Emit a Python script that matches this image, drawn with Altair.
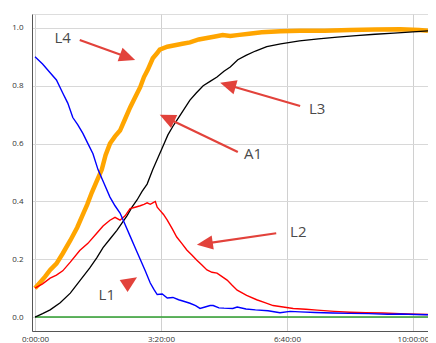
import math
import altair as alt
import pandas as pd

# ---- data (time in minutes) ----
blue_t = [0, 12, 24, 34, 44, 52, 60, 68, 76, 84, 92, 100, 110, 119, 127, 135, 143, 151, 159, 167, 175, 183, 189, 194, 202, 210, 219, 228, 236, 246, 255, 262, 270, 278, 283, 292, 300, 314, 321, 335, 350, 370, 389, 405, 421, 445, 473, 500, 530, 560, 580, 605, 624]
blue_v = [0.90, 0.875, 0.845, 0.82, 0.775, 0.74, 0.69, 0.665, 0.635, 0.60, 0.565, 0.51, 0.46, 0.415, 0.385, 0.36, 0.32, 0.28, 0.24, 0.20, 0.16, 0.118, 0.095, 0.078, 0.08, 0.066, 0.068, 0.06, 0.055, 0.048, 0.04, 0.03, 0.035, 0.04, 0.04, 0.032, 0.031, 0.03, 0.035, 0.028, 0.025, 0.022, 0.015, 0.02, 0.018, 0.016, 0.014, 0.013, 0.012, 0.01, 0.011, 0.009, 0.008]

orange_t = [0, 8, 16, 24, 34, 44, 56, 67, 75, 83, 90, 98, 106, 112, 119, 127, 135, 143, 151, 159, 167, 173, 179, 187, 194, 198, 210, 222, 234, 246, 260, 273, 286, 298, 310, 321, 340, 360, 390, 421, 460, 500, 540, 580, 610, 624]
orange_v = [0.10, 0.12, 0.14, 0.163, 0.185, 0.22, 0.265, 0.31, 0.35, 0.39, 0.43, 0.47, 0.51, 0.56, 0.60, 0.625, 0.645, 0.685, 0.725, 0.76, 0.795, 0.83, 0.855, 0.895, 0.913, 0.925, 0.935, 0.94, 0.945, 0.95, 0.96, 0.965, 0.97, 0.975, 0.972, 0.975, 0.98, 0.985, 0.988, 0.99, 0.99, 0.993, 0.994, 0.995, 0.993, 0.99]

black_t = [0, 12, 24, 40, 56, 71, 87, 98, 108, 119, 130, 138, 146, 154, 162, 170, 178, 187, 195, 203, 211, 219, 228, 237, 246, 256, 267, 278, 289, 300, 310, 322, 335, 350, 368, 390, 420, 450, 480, 510, 540, 570, 600, 624]
black_v = [0.0, 0.012, 0.025, 0.05, 0.083, 0.125, 0.17, 0.205, 0.24, 0.27, 0.30, 0.325, 0.35, 0.38, 0.405, 0.435, 0.46, 0.51, 0.55, 0.59, 0.63, 0.66, 0.69, 0.72, 0.75, 0.775, 0.80, 0.815, 0.83, 0.85, 0.865, 0.89, 0.905, 0.92, 0.935, 0.945, 0.955, 0.962, 0.968, 0.973, 0.978, 0.982, 0.986, 0.99]

red_t = [0, 12, 24, 34, 44, 56, 71, 84, 98, 108, 119, 127, 135, 143, 151, 159, 167, 173, 178, 183, 187, 191, 194, 198, 204, 210, 218, 225, 233, 241, 249, 257, 265, 273, 281, 289, 297, 305, 313, 321, 336, 352, 365, 378, 394, 410, 430, 448, 475, 500, 525, 552, 580, 606, 624]
red_v = [0.10, 0.115, 0.135, 0.145, 0.16, 0.19, 0.23, 0.255, 0.29, 0.315, 0.335, 0.345, 0.335, 0.35, 0.375, 0.38, 0.385, 0.39, 0.395, 0.39, 0.395, 0.40, 0.38, 0.37, 0.355, 0.335, 0.305, 0.277, 0.255, 0.232, 0.215, 0.197, 0.18, 0.163, 0.155, 0.152, 0.14, 0.128, 0.11, 0.093, 0.075, 0.06, 0.05, 0.04, 0.035, 0.03, 0.027, 0.024, 0.02, 0.017, 0.015, 0.014, 0.012, 0.01, 0.009]

green_t = [0, 624]
green_v = [0.0, 0.0]

series = [
    ("G", green_t, green_v, "#2e9e2e", 1.5),
    ("L4", orange_t, orange_v, "#ffa500", 4.5),
    ("L3", black_t, black_v, "#000000", 1.3),
    ("L2", red_t, red_v, "#ff0000", 1.4),
    ("L1", blue_t, blue_v, "#0000ff", 1.4),
]

# annotation labels and arrows
ann_text = ["L4", "L3", "A1", "L2", "L1"]
ann_t = [44, 448, 346, 418, 114]
ann_v = [0.965, 0.72, 0.564, 0.294, 0.076]
tail_t = [71, 421, 322, 383, 143]
tail_v = [0.958, 0.73, 0.571, 0.29, 0.111]
tip_t = [159, 294, 198, 257, 162]
tip_v = [0.889, 0.81, 0.70, 0.25, 0.138]

x_ticks = [0, 200, 400, 600]
y_ticks = [0.0, 0.2, 0.4, 0.6, 0.8, 1.0]

# ---- layout ----
W, H = 396, 317
XD = [-4.8, 624]
YD = [-0.048, 1.048]
pxm = W / (XD[1] - XD[0])
pxv = H / (YD[1] - YD[0])
HEAD_R = 8

arrows = []
for i in range(len(ann_text)):
    dx = (tip_t[i] - tail_t[i]) * pxm
    dy = -(tip_v[i] - tail_v[i]) * pxv
    L = math.hypot(dx, dy)
    ux, uy = dx / L, dy / L
    ang = math.degrees(math.atan2(dx, -dy)) % 360
    cx = tip_t[i] - ux * HEAD_R / pxm
    cy = tip_v[i] + uy * HEAD_R / pxv
    arrows.append({"tt": tail_t[i], "tv": tail_v[i], "ct": cx, "cv": cy, "ang": ang})
adf = pd.DataFrame(arrows)
tdf = pd.DataFrame({"label": ann_text, "t": ann_t, "v": ann_v})

xscale = alt.Scale(domain=XD, nice=False, zero=False)
yscale = alt.Scale(domain=YD, nice=False, zero=False)

xaxis = alt.Axis(values=x_ticks, title=None, grid=True, gridColor="#d0d0d0", ticks=False,
                 labelExpr="floor(datum.value/60) + ':' + format(datum.value % 60, '02d') + ':00'",
                 labelFontSize=8, labelColor="#333", labelPadding=4, domainColor="#555",
                 labelFont="Open Sans", labelFlush=False)
yaxis = alt.Axis(values=y_ticks, format=".1f", title=None, grid=True, gridColor="#d8d8d8", ticks=False,
                 labelFontSize=8, labelColor="#333", labelPadding=9, domainColor="#555",
                 labelFont="Open Sans")

layers = []
for k, (name, ts, vs, col, sw) in enumerate(series):
    d = pd.DataFrame({"t": ts, "v": vs})
    layers.append(alt.Chart(d).mark_line(clip=True, color=col, strokeWidth=sw).encode(
        x=alt.X("t:Q", scale=xscale, axis=xaxis),
        y=alt.Y("v:Q", scale=yscale, axis=yaxis),
    ))

rules = alt.Chart(adf).mark_rule(color="#e2423b", strokeWidth=2.2).encode(
    x=alt.X("tt:Q", scale=xscale, axis=xaxis), y=alt.Y("tv:Q", scale=yscale, axis=yaxis),
    x2="ct:Q", y2="cv:Q",
)
heads = alt.Chart(adf).mark_point(shape="M0,-1L0.9,1L-0.9,1Z", filled=True, color="#e2423b",
                                  opacity=1, size=(2 * HEAD_R) ** 2).encode(
    x=alt.X("ct:Q", scale=xscale, axis=xaxis), y=alt.Y("cv:Q", scale=yscale, axis=yaxis),
    angle=alt.Angle("ang:Q", scale=None),
)
texts = alt.Chart(tdf).mark_text(fontSize=15, color="#4a4a4a", font="Open Sans", align="center",
                                 baseline="middle").encode(
    x=alt.X("t:Q", scale=xscale, axis=xaxis), y=alt.Y("v:Q", scale=yscale, axis=yaxis), text="label:N",
)

chart = alt.layer(*layers, rules, heads, texts).properties(
    width=W, height=H,
    autosize=alt.AutoSizeParams(type="none"),
    padding={"left": 24, "top": 6, "right": 0, "bottom": 12},
).configure_view(stroke="#dddddd").configure(background="white")

chart.save("out.html", embed_options={"renderer": "svg", "actions": False})
